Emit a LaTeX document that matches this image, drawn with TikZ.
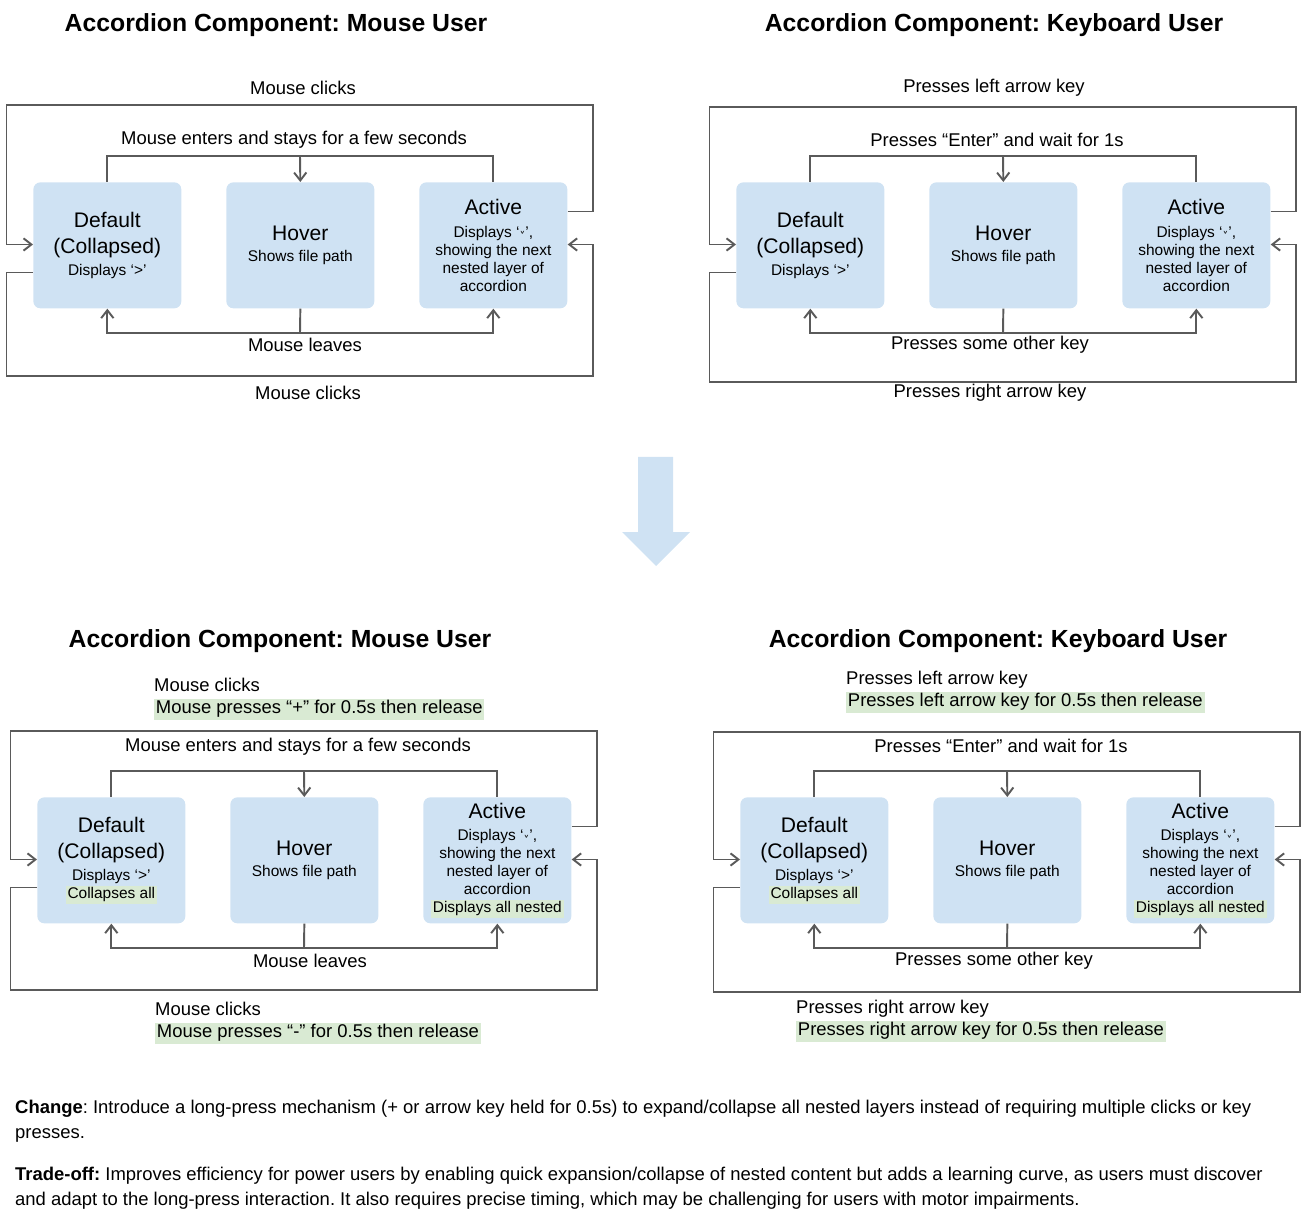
\documentclass[tikz,border=0pt]{standalone}
\usepackage{fontspec}
\setmainfont{Liberation Sans}
\newfontfamily\symfont{DejaVu Sans}
\usetikzlibrary{arrows.meta}
\frenchspacing

\definecolor{boxblue}{HTML}{CFE2F3}
\definecolor{hlgreen}{HTML}{D9EAD3}
\definecolor{linegray}{HTML}{5A5A5A}

\newcommand{\bigtxt}{\fontsize{12}{14}\selectfont}
\newcommand{\smalltxt}{\fontsize{8.8}{10.2}\selectfont}
\newcommand{\hlt}[1]{{\setlength{\fboxsep}{1pt}\colorbox{hlgreen}{#1}}}
\newcommand{\dnmark}{\raisebox{-0.45ex}{\symfont\fontsize{6.5}{6.5}\selectfont ˅}}

\tikzset{
    statebox/.style={fill=boxblue, rounded corners=4pt, minimum width=2.96cm,
        minimum height=2.52cm, align=center, font=\smalltxt, inner sep=0pt},
    link/.style={draw=linegray, line width=1.1pt},
    arr/.style={link, -{Straight Barb[length=4.5pt,width=7pt]}},
    edgetext/.style={font=\fontsize{10.5}{12.6}\selectfont},
    notetext/.style={font=\fontsize{10.5}{12.6}\selectfont, align=left, anchor=west},
    headline/.style={font=\bfseries\fontsize{14.1}{17}\selectfont},
    parnote/.style={anchor=north west, align=left, font=\fontsize{10.5}{14.2}\selectfont},
}

% #1 prefix, #2 shift, #3 outer top y, #4 outer bottom y,
% #5 extra line of default, #6 extra line of active
\newcommand{\accordion}[6]{%
    \begin{scope}[shift={#2}]
        \node [statebox, anchor=north west] (#1-def) at (0,0)
            {\bigtxt Default\\[4.5pt]\bigtxt (Collapsed)\\[2.6pt]Displays ‘>’#5};
        \node [statebox, anchor=north west] (#1-hov) at (193,0)
            {\bigtxt Hover\\[2.3pt]Shows file path};
        \node [statebox, anchor=north west] (#1-act) at (386,0)
            {\bigtxt Active\\[2.6pt]Displays ‘\dnmark’,\\showing the next\\nested layer of\\accordion#6};

        \coordinate (#1-up) at (267,-26);
        \coordinate (#1-dn) at (267,151);

        % hover in
        \draw [link] (#1-def.north) |- (#1-up) -| (#1-act.north);
        \draw [arr] (#1-up) -- (#1-hov.north);

        % hover out
        \draw [link] (#1-hov.south) -- (#1-dn);
        \draw [arr] (#1-dn) -| (#1-def.south);
        \draw [arr] (#1-dn) -| (#1-act.south);

        % outer loops
        \draw [arr] (#1-act.east |- 0,29.5) -| (560,#3) -| (-26.5,62.5)
            -- (#1-def.west |- 0,62.5);
        \draw [arr] (#1-def.west |- 0,90.5) -| (-26.5,#4) -| (560,62.5)
            -- (#1-act.east |- 0,62.5);
    \end{scope}}

\begin{document}
\begin{tikzpicture}[x=0.02cm, y=-0.02cm]
    \useasboundingbox (0,0) rectangle (1308,1219);

    % before
    \node [headline] (tl-title) at (276,25) {Accordion Component: Mouse User};
    \node [headline] (tr-title) at (994,25) {Accordion Component: Keyboard User};

    \accordion{tl}{(33,182)}{-77}{194}{}{}
    \accordion{tr}{(736,182)}{-75}{200}{}{}

    \node [edgetext] (tl-top) at (303,88) {Mouse clicks};
    \node [edgetext] (tl-enter) at (294,140) {Mouse enters and stays for a few seconds};
    \node [edgetext] (tl-leave) at (305,345) {Mouse leaves};
    \node [edgetext] (tl-bot) at (308,393) {Mouse clicks};

    \node [edgetext] (tr-top) at (994,88) {Presses left arrow key};
    \node [edgetext] (tr-enter) at (997,140) {Presses “Enter” and wait for 1s};
    \node [edgetext] (tr-leave) at (990,345) {Presses some other key};
    \node [edgetext] (tr-bot) at (990,393) {Presses right arrow key};

    % big arrow
    \fill [boxblue]
        (638,457) -- (673,457) -- (673,532) -- (690,532)
        -- (656,566) -- (622,532) -- (638,532) -- cycle
        ;

    % after
    \node [headline] (bl-title) at (280,641) {Accordion Component: Mouse User};
    \node [headline] (br-title) at (998,641) {Accordion Component: Keyboard User};

    \accordion{bl}{(37,797)}{-66}{193}{\\\hlt{Collapses all}}{\\\hlt{Displays all nested}}
    \accordion{br}{(740,797)}{-65}{195}{\\\hlt{Collapses all}}{\\\hlt{Displays all nested}}

    \node [notetext] (bl-top) at (148,699)
        {Mouse clicks\\\hlt{Mouse presses “+” for 0.5s then release}};
    \node [edgetext] (bl-enter) at (298,747) {Mouse enters and stays for a few seconds};
    \node [edgetext] (bl-leave) at (310,961) {Mouse leaves};
    \node [notetext] (bl-bot) at (149,1023)
        {Mouse clicks\\\hlt{Mouse presses “-” for 0.5s then release}};

    \node [notetext] (br-top) at (840,692)
        {Presses left arrow key\\\hlt{Presses left arrow key for 0.5s then release}};
    \node [edgetext] (br-enter) at (1001,746) {Presses “Enter” and wait for 1s};
    \node [edgetext] (br-leave) at (994,961) {Presses some other key};
    \node [notetext] (br-bot) at (790,1021)
        {Presses right arrow key\\\hlt{Presses right arrow key for 0.5s then release}};

    % notes
    \node [parnote] (change) at (9,1094)
        {\textbf{Change}: Introduce a long-press mechanism (+ or arrow key held for 0.5s) to expand/collapse all nested layers instead of requiring multiple clicks or key\\presses.};
    \node [parnote] (tradeoff) at (9,1161)
        {\textbf{Trade-off:} Improves efficiency for power users by enabling quick expansion/collapse of nested content but adds a learning curve, as users must discover\\and adapt to the long-press interaction. It also requires precise timing, which may be challenging for users with motor impairments.};
\end{tikzpicture}
\end{document}
